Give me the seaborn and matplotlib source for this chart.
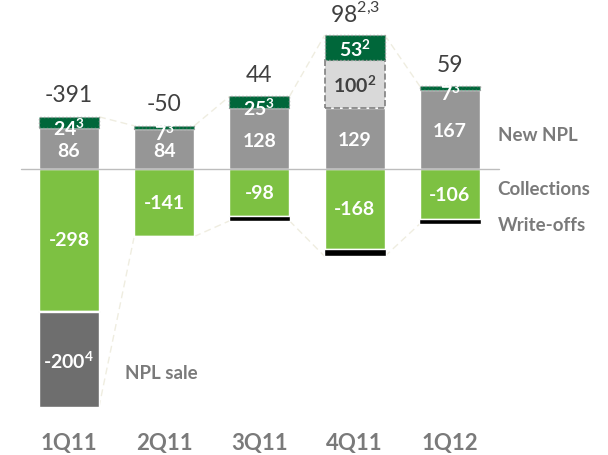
import numpy as np
import pandas as pd
import matplotlib
matplotlib.use("Agg")
import matplotlib.pyplot as plt
import seaborn as sns

# data
quarters = ["1Q11", "2Q11", "3Q11", "4Q11", "1Q12"]
new_npl = [86, 84, 128, 129, 167]
one_off = [0, 0, 0, 100, 0]          # light grey dashed box (footnote 2)
top_up = [24, 7, 25, 53, 7]          # dark green segment
top_up_note = ["3", "3", "3", "2", "3"]
collections = [-298, -141, -98, -168, -106]
write_offs = [-3, -1, -11, -16, -9]
npl_sale = [-200, 0, 0, 0, 0]
net_change = ["-391", "-50", "44", "98", "59"]
net_note = ["", "", "", "2{,}3", ""]

sns.set_style("white")
plt.rcParams["font.family"] = ["Lato", "DejaVu Sans"]
plt.rcParams["mathtext.fontset"] = "custom"
plt.rcParams["mathtext.rm"] = "Lato"
plt.rcParams["mathtext.bf"] = "Lato:bold"

C_GREY = "#969696"
C_GREEN = "#7DC142"
C_DARK = "#00673A"
C_LIGHT = "#D9D9D9"
C_SALE = "#6E6E6E"
C_TEXT = "#404040"
C_LAB = "#7A7A7A"


def bsup(v, note):
    # bold number with bold superscript footnote, sign kept as plain hyphen
    sign = "-" if v < 0 else ""
    return sign + r"$\mathbf{" + str(abs(v)) + r"}^{\mathbf{" + note + "}}$"


df = pd.DataFrame({"q": quarters, "new": new_npl, "coll": collections})

fig = plt.figure(figsize=(6.08, 4.56), dpi=100)
ax = fig.add_axes([0, 0, 1, 1])
W = 0.63

sns.barplot(data=df, x="q", y="new", color=C_GREY, width=W, saturation=1, ax=ax)
sns.barplot(data=df, x="q", y="coll", color=C_GREEN, width=W, saturation=1, ax=ax)

x = np.arange(len(quarters))
new = np.array(new_npl, float)
oo = np.array(one_off, float)
tu = np.array(top_up, float)
col = np.array(collections, float)
wo = np.array(write_offs, float)
sale = np.array(npl_sale, float)

# one-off box
m = oo > 0
ax.bar(x[m], oo[m], bottom=new[m], width=W, color=C_LIGHT, edgecolor="#808080",
       linestyle="--", linewidth=1.2)
# dark green top segment
ax.bar(x, tu, bottom=new + oo, width=W, color=C_DARK, edgecolor="#9a9a9a",
       linestyle=":", linewidth=1)
# write-offs
ax.bar(x, wo, bottom=col, width=W + 0.02, color="black")
# npl sale
m = sale < 0
ax.bar(x[m], sale[m], bottom=(col + wo)[m], width=W, color=C_SALE)

top = new + oo + tu
bot = col + wo + sale

# faint connectors
for i in range(len(x) - 1):
    for ya, yb in [(top[i], top[i + 1]), (bot[i], bot[i + 1])]:
        ax.plot([x[i] + W / 2, x[i + 1] - W / 2], [ya, yb], color="#EFEDE0",
                linestyle=(0, (5, 3)), linewidth=1, zorder=0)

ax.axhline(0, xmin=0.035, xmax=0.82, color="#BDBDBD", linewidth=1, zorder=3)

fs_in = 14
for i in range(len(x)):
    ax.text(x[i], new[i] / 2 - 3, str(new_npl[i]), ha="center", va="center",
            color="white", fontsize=fs_in, fontweight="bold")
    ax.text(x[i], col[i] / 2, str(collections[i]), ha="center", va="center",
            color="white", fontsize=fs_in, fontweight="bold")
    yy = new[i] + oo[i] + tu[i] / 2 - (9 if tu[i] < 30 else 0)
    ax.text(x[i], yy, bsup(top_up[i], top_up_note[i]), ha="center",
            va="center", color="white", fontsize=fs_in, fontweight="bold")
    if oo[i] > 0:
        ax.text(x[i], new[i] + oo[i] / 2, bsup(one_off[i], "2"), ha="center",
                va="center", color=C_TEXT, fontsize=fs_in, fontweight="bold")
    if sale[i] < 0:
        ax.text(x[i], col[i] + wo[i] + sale[i] / 2, bsup(npl_sale[i], "4"),
                ha="center", va="center", color="white", fontsize=fs_in,
                fontweight="bold")
    lab = net_change[i]
    if net_note[i]:
        lab = lab + r"$^{" + net_note[i] + "}$"
    ax.annotate(lab, (x[i], top[i]), xytext=(0, 16), textcoords="offset points",
                ha="center", va="center", color=C_TEXT, fontsize=16.5)
    ax.text(x[i], -575, quarters[i], ha="center", va="center", color=C_LAB,
            fontsize=16, fontweight="bold")

# series labels on the right
fs_lab = 13.5
ax.text(4.5, 72, "New NPL", ha="left", va="center", color=C_LAB, fontsize=fs_lab,
        fontweight="bold")
ax.text(4.5, -40, "Collections", ha="left", va="center", color=C_LAB,
        fontsize=fs_lab, fontweight="bold")
ax.text(4.5, -116, "Write-offs", ha="left", va="center", color=C_LAB,
        fontsize=fs_lab, fontweight="bold")
ax.text(0.59, -428, "NPL sale", ha="left", va="center", color=C_LAB,
        fontsize=fs_lab, fontweight="bold")

ax.set_xlim(-0.724, 5.659)
ax.set_ylim(-602, 358)
ax.set_axis_off()

fig.savefig("out.png", dpi=100)
